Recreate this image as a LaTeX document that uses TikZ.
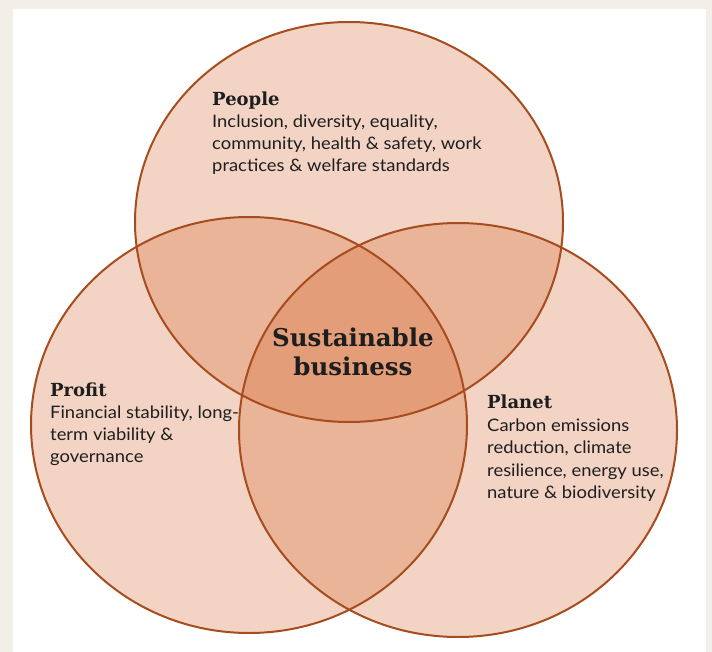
\documentclass[tikz,border=0pt]{standalone}
\usepackage{fontspec}
\setmainfont{Lato}[FakeStretch=1.07]
\newfontfamily\headfont{DejaVu Serif}
\definecolor{rim}{RGB}{166,76,30}
\definecolor{petal}{RGB}{212,92,30}
\definecolor{framebg}{RGB}{242,238,232}
\definecolor{ink}{RGB}{30,30,30}
\tikzstyle{set_fill}=[fill=petal, fill opacity=0.26]
\tikzstyle{set_rim}=[draw=rim, line width=2pt]
\tikzstyle{set_text}=[anchor=north west, inner sep=0pt, align=left, text=ink,
    font=\fontsize{17.2}{22}\selectfont]
\tikzstyle{core_text}=[anchor=north, inner sep=0pt, align=center, text=ink,
    font=\headfont\bfseries\fontsize{24.5}{28.5}\selectfont]
\newcommand{\sethead}[1]{{\headfont\bfseries\fontsize{18}{22}\selectfont #1}}

\begin{document}
\begin{tikzpicture}[x=1pt,y=-1pt]
\fill[framebg] (0,0) rectangle (712,652);
\fill[white] (13,9) rectangle (706,652);
\useasboundingbox (0,0) rectangle (712,652);
\path[set_fill] (349,222) ellipse [x radius=214, y radius=200];
\path[set_fill] (249,425) ellipse [x radius=218, y radius=208];
\path[set_fill] (458,430) ellipse [x radius=219, y radius=207];
\draw[set_rim] (349,222) ellipse [x radius=214, y radius=200];
\draw[set_rim] (249,425) ellipse [x radius=218, y radius=208];
\draw[set_rim] (458,430) ellipse [x radius=219, y radius=207];
\node[set_text] (people) at (212,91.5) {\sethead{People}\\
  Inclusion, diversity, equality,\\
  community, health \& safety, work\\
  practices \& welfare standards};
\node[set_text] (profit) at (50,383) {\sethead{Profit}\\
  Financial stability, long-\\
  term viability \&\\
  governance};
\node[set_text, font=\fontsize{17.2}{22.4}\selectfont] (planet) at (487,395) {\sethead{Planet}\\
  Carbon emissions\\
  reduction, climate\\
  resilience, energy use,\\
  nature \& biodiversity};
\node[core_text] (core) at (353,328) {Sustainable\\business};
\end{tikzpicture}
\end{document}
